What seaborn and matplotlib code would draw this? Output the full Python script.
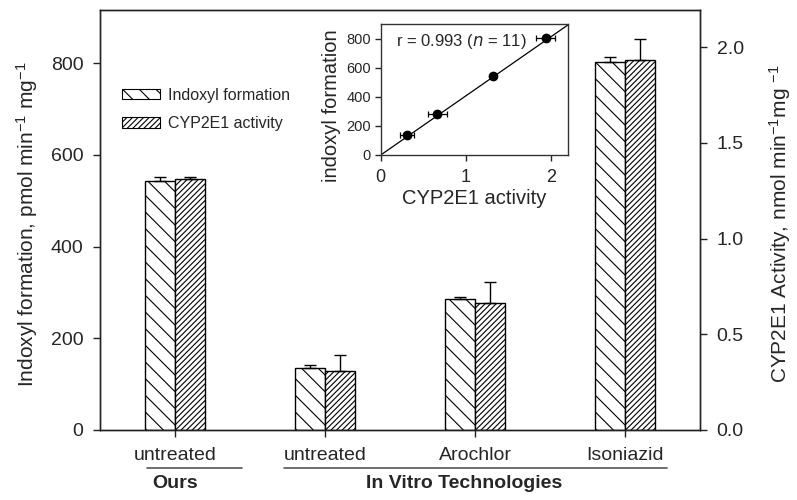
import matplotlib
matplotlib.use('Agg')
import matplotlib.pyplot as plt
import matplotlib.transforms as mtransforms
from matplotlib.patches import Patch
import numpy as np
import pandas as pd
import seaborn as sns

# data
conditions = ["untreated", "untreated", "Arochlor", "Isoniazid"]
sources = ["Ours", "In Vitro Technologies", "In Vitro Technologies", "In Vitro Technologies"]
indoxyl = [544, 136, 285, 803]          # pmol/min/mg  (left axis)
indoxyl_err = [7, 5, 6, 10]
cyp2e1 = [1.312, 0.31, 0.665, 1.933]    # nmol/min/mg  (right axis)
cyp2e1_err = [0.01, 0.08, 0.108, 0.11]
series = ["Indoxyl formation", "CYP2E1 activity"]
hatches = ["\\\\", "//////"]
fit_slope = 407
r_text = "r = 0.993 ($\\it{n}$ = 11)"

left_max = 916
right_max = 2.195
scale = left_max / right_max   # right-axis units -> left-axis units

sns.set_style("white")
plt.rcParams['font.family'] = ['Liberation Sans', 'DejaVu Sans']
plt.rcParams['mathtext.default'] = 'regular'
plt.rcParams['hatch.linewidth'] = 0.8
plt.rcParams['hatch.color'] = 'black'

keys = [f"{s}|{c}" for s, c in zip(sources, conditions)]
df = pd.concat([
    pd.DataFrame({"key": keys, "value": indoxyl, "series": series[0]}),
    pd.DataFrame({"key": keys, "value": np.array(cyp2e1) * scale, "series": series[1]}),
])

fig = plt.figure(figsize=(7.97, 5.0), dpi=100)
ax = fig.add_axes([0.1255, 0.14, 0.7528, 0.84])

sns.barplot(data=df, x="key", y="value", hue="series", hue_order=series, order=keys,
            palette=["white", "white"], edgecolor="black", linewidth=1.0,
            width=0.4, gap=0, errorbar=None, legend=False, ax=ax)

errs = [np.array(indoxyl_err), np.array(cyp2e1_err) * scale]
for cont, hatch, err in zip(ax.containers, hatches, errs):
    xs = [p.get_x() + p.get_width() / 2 for p in cont]
    hs = [p.get_height() for p in cont]
    for p in cont:
        p.set_hatch(hatch)
    ax.errorbar(xs, hs, yerr=[np.zeros(len(err)), err], fmt='none', ecolor='black',
                elinewidth=1.0, capsize=4, capthick=1.0, zorder=3)

ax.set_xlim(-0.5, 3.5)
ax.set_ylim(0, left_max)
ax.set_yticks(np.arange(0, 801, 200))
ax.set_xticks(range(len(conditions)))
ax.set_xticklabels(conditions)
ax.set_xlabel("")

ax2 = ax.twinx()
ax2.set_ylim(0, right_max)
ax2.set_yticks(np.arange(0, 2.01, 0.5))
ax2.set_yticklabels([f"{v:.1f}" for v in np.arange(0, 2.01, 0.5)])

for a in (ax, ax2):
    for s in a.spines.values():
        s.set_visible(True)
        s.set_color("#222222")
        s.set_linewidth(1.0)
ax.tick_params(axis='both', which='major', direction='out', length=5, width=1,
               labelsize=14, pad=7, left=True, bottom=True, color="#222222")
ax2.tick_params(axis='y', direction='out', length=5, width=1, labelsize=14, pad=7,
                right=True, color="#222222")

ax.set_ylabel("Indoxyl formation, pmol min$^{-1}$ mg$^{-1}$", fontsize=15)
ax.yaxis.set_label_coords(-0.1, 0.49)
ax2.set_ylabel("CYP2E1 Activity, nmol min$^{-1}$mg $^{-1}$", fontsize=15)
ax2.yaxis.set_label_coords(1.112, 0.49)

# group labels under the x axis
trans = mtransforms.blended_transform_factory(ax.transData, ax.transAxes)
ax.plot([-0.19, 0.447], [-0.09, -0.09], transform=trans, color="#555555", lw=1.2, clip_on=False)
ax.plot([0.727, 3.278], [-0.09, -0.09], transform=trans, color="#555555", lw=1.2, clip_on=False)
ax.text(0, -0.128, "Ours", transform=trans, ha='center', va='center', fontsize=14, fontweight='bold')
ax.text(1.927, -0.128, "In Vitro Technologies", transform=trans, ha='center', va='center',
        fontsize=14, fontweight='bold')

handles = [Patch(facecolor='white', edgecolor='black', hatch=h, linewidth=0.8) for h in hatches]
ax.legend(handles, series, loc='upper left', bbox_to_anchor=(0.036, 0.815), frameon=False,
          fontsize=11.5, handlelength=2.4, handleheight=0.65, handletextpad=0.5,
          labelspacing=0.85, borderpad=0, borderaxespad=0)

# inset correlation plot
ax_in = fig.add_axes([0.4777, 0.69, 0.2354, 0.262])
ax_in.errorbar(cyp2e1, indoxyl, xerr=cyp2e1_err, yerr=indoxyl_err, fmt='o', color='black',
               markersize=6, elinewidth=0.9, capsize=2.5, capthick=0.9, zorder=3)
ax_in.set_xlim(0, 2.2)
ax_in.set_ylim(0, 900)
fx = np.array(ax_in.get_xlim())
ax_in.plot(fx, fit_slope * fx, color='black', lw=0.9)
ax_in.set_xticks([0, 1, 2])
ax_in.set_yticks(np.arange(0, 801, 200))
for s in ax_in.spines.values():
    s.set_visible(True)
    s.set_color("#333333")
    s.set_linewidth(1.0)
ax_in.tick_params(axis='x', direction='out', length=4, width=1, labelsize=13, pad=6, bottom=True)
ax_in.tick_params(axis='y', direction='out', length=4, width=1, labelsize=10.5, pad=3, left=True)
ax_in.set_xlabel("CYP2E1 activity", fontsize=14.5, labelpad=2)
ax_in.set_ylabel("indoxyl formation", fontsize=14.5)
ax_in.yaxis.set_label_coords(-0.21, 0.38)
ax_in.text(0.08, 0.87, r_text, transform=ax_in.transAxes, ha='left', va='center', fontsize=12)

fig.savefig("out.png", dpi=100)
